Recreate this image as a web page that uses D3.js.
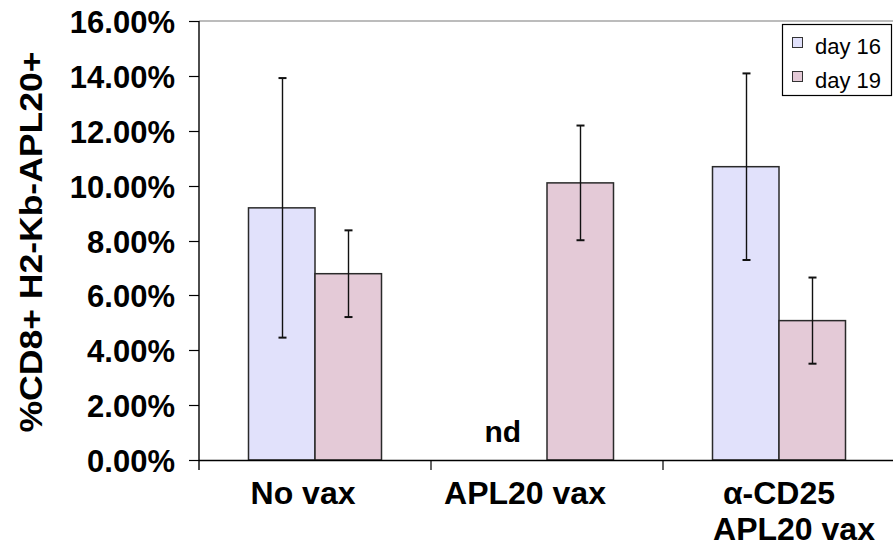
<!DOCTYPE html>
<html>
<head>
<meta charset="utf-8">
<script src="https://cdn.jsdelivr.net/npm/d3@7"></script>
<style>
  html, body { margin: 0; padding: 0; background: #fff; }
  svg { display: block; font-family: "Liberation Sans", Arial, sans-serif; }
</style>
</head>
<body>
<svg id="chart" width="893" height="552"></svg>
<script>
// Groups along the x axis (each label may wrap onto two lines)
const categories = ["No vax", "APL20 vax", "α-CD25\nAPL20 vax"];
const seriesNames = ["day 16", "day 19"];
// Percent of CD8+ cells that are H2-Kb-APL20+ (null = not determined)
const day16 = [9.19, null, 10.69];
const day19 = [6.79, 10.10, 5.08];
// Error bar half-widths, in percent
const day16Err = [4.73, null, 3.40];
const day19Err = [1.58, 2.09, 1.57];
const yTicks = [0, 2, 4, 6, 8, 10, 12, 14, 16];
const yTitle = "%CD8+ H2-Kb-APL20+";
const missingLabel = "nd";

const colors = { "day 16": "#e1e1fb", "day 19": "#e4cad7" };

const svg = d3.select("#chart");
const plotLeft = 199, plotTop = 21, plotBottom = 460, groupW = 232;

const x = d3.scaleBand().domain(categories)
  .range([plotLeft, plotLeft + groupW * categories.length]).padding(0);
const barGroup = 133;
const xs = d3.scaleBand().domain(seriesNames)
  .range([(groupW - barGroup) / 2, (groupW + barGroup) / 2]).padding(0);
const y = d3.scaleLinear().domain([0, 16]).range([plotBottom, plotTop]);

// Plot area top edge
svg.append("line")
  .attr("x1", plotLeft).attr("x2", 893)
  .attr("y1", y(16)).attr("y2", y(16))
  .attr("stroke", "#a6a6a6").attr("stroke-width", 1.5);

// Rows of bar data
const rows = [];
categories.forEach((c, i) => {
  rows.push({ cat: c, series: "day 16", v: day16[i], e: day16Err[i] });
  rows.push({ cat: c, series: "day 19", v: day19[i], e: day19Err[i] });
});

// Bars
svg.append("g").selectAll("rect")
  .data(rows.filter(d => d.v != null))
  .join("rect")
  .attr("x", d => x(d.cat) + xs(d.series))
  .attr("y", d => y(d.v))
  .attr("width", xs.bandwidth())
  .attr("height", d => y(0) - y(d.v))
  .attr("fill", d => colors[d.series])
  .attr("stroke", "#2a2a2a")
  .attr("stroke-width", 1.5);

// Error bars
const eg = svg.append("g").attr("stroke", "#111").attr("stroke-width", 1.4);
rows.filter(d => d.v != null && d.e != null).forEach(d => {
  const cx = Math.round(x(d.cat) + xs(d.series) + xs.bandwidth() / 2) + 0.5;
  const y1 = y(d.v + d.e), y2 = y(d.v - d.e);
  eg.append("line").attr("x1", cx).attr("x2", cx).attr("y1", y1).attr("y2", y2);
  eg.append("line").attr("x1", cx - 4).attr("x2", cx + 4).attr("y1", y1).attr("y2", y1).attr("stroke-width", 2);
  eg.append("line").attr("x1", cx - 4).attr("x2", cx + 4).attr("y1", y2).attr("y2", y2).attr("stroke-width", 2);
});

// "nd" marker for the missing value
rows.filter(d => d.v == null).forEach(d => {
  const cx = x(d.cat) + xs(d.series) + xs.bandwidth() / 2 - 11;
  svg.append("text")
    .attr("x", cx).attr("y", y(0) - 18)
    .attr("text-anchor", "middle")
    .attr("font-size", 30).attr("font-weight", "bold")
    .attr("fill", "#000")
    .text(missingLabel);
});

// Y axis
const yAxis = svg.append("g");
yAxis.append("line").attr("x1", plotLeft).attr("x2", plotLeft)
  .attr("y1", y(16)).attr("y2", plotBottom + 10)
  .attr("stroke", "#000").attr("stroke-width", 1.4);
yAxis.selectAll("line.tick").data(yTicks).join("line").attr("class", "tick")
  .attr("x1", plotLeft - 10).attr("x2", plotLeft)
  .attr("y1", d => Math.round(y(d)) + 0.5).attr("y2", d => Math.round(y(d)) + 0.5)
  .attr("stroke", "#000").attr("stroke-width", 1.2);
yAxis.selectAll("text").data(yTicks).join("text")
  .attr("x", 175).attr("y", d => y(d) + 12)
  .attr("text-anchor", "end")
  .attr("font-size", 31).attr("font-weight", "bold")
  .text(d => d3.format(".2f")(d) + "%");

// X axis
const xAxis = svg.append("g");
xAxis.append("line").attr("x1", plotLeft).attr("x2", 893)
  .attr("y1", plotBottom + 0.5).attr("y2", plotBottom + 0.5)
  .attr("stroke", "#000").attr("stroke-width", 1.4);
const bounds = categories.map(c => x(c) + x.bandwidth()).slice(0, -1);
xAxis.selectAll("line.tick").data(bounds).join("line").attr("class", "tick")
  .attr("x1", d => d).attr("x2", d => d)
  .attr("y1", plotBottom).attr("y2", plotBottom + 10)
  .attr("stroke", "#000").attr("stroke-width", 1.2);
// horizontal offset of each label line from its group centre
const labelShift = [[-12], [-22], [0, 15]];
categories.forEach((c, i) => {
  const cx = x(c) + x.bandwidth() / 2;
  c.split("\n").forEach((ln, j) => {
    svg.append("text")
      .attr("x", cx + labelShift[i][j]).attr("y", 504 + j * 36)
      .attr("text-anchor", "middle")
      .attr("font-size", 32).attr("font-weight", "bold")
      .text(ln);
  });
});

// Y axis title
svg.append("text")
  .attr("transform", `translate(42,242) rotate(-90)`)
  .attr("text-anchor", "middle")
  .attr("font-size", 32).attr("font-weight", "bold")
  .attr("textLength", 381).attr("lengthAdjust", "spacingAndGlyphs")
  .text(yTitle);

// Legend
const lg = svg.append("g").attr("transform", "translate(782,24)");
lg.append("rect").attr("x", 0.5).attr("y", 0.5).attr("width", 109).attr("height", 71)
  .attr("fill", "#fff").attr("stroke", "#000").attr("stroke-width", 1.2);
seriesNames.forEach((s, i) => {
  lg.append("rect").attr("x", 10.5).attr("y", 13.5 + i * 34).attr("width", 10).attr("height", 10)
    .attr("fill", colors[s]).attr("stroke", "#333").attr("stroke-width", 1);
  lg.append("text")
    .attr("x", 33).attr("y", 30 + i * 34)
    .attr("font-size", 22)
    .text(s);
});
</script>
</body>
</html>
